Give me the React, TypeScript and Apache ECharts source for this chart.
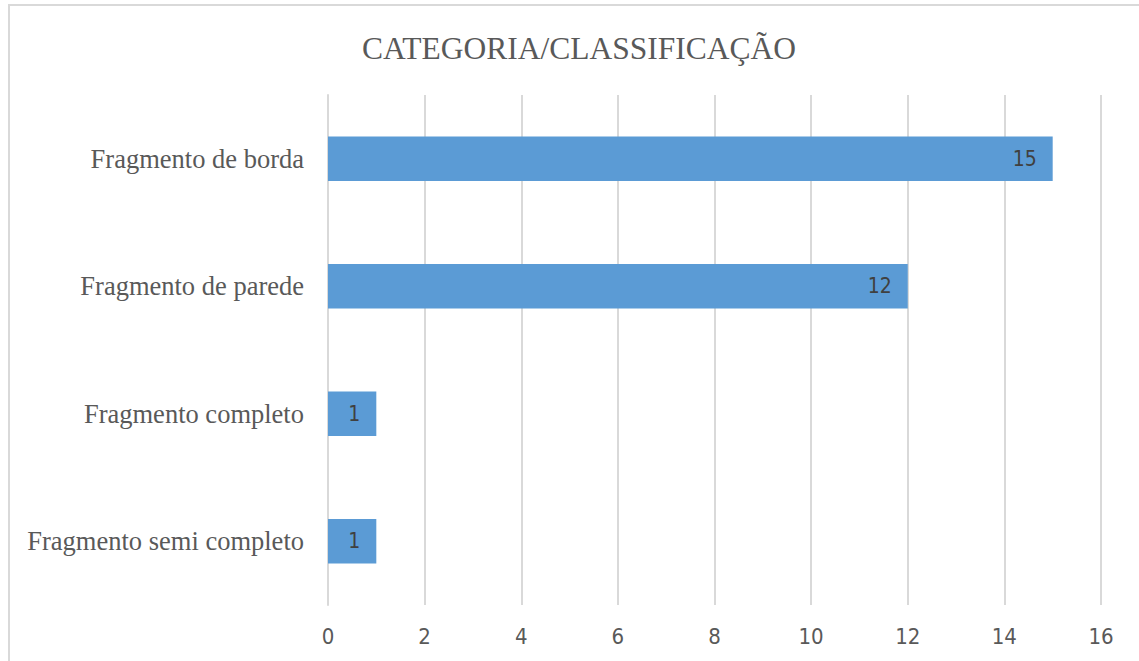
import React, { useEffect, useRef } from "react";
import * as echarts from "echarts";

const title = "CATEGORIA/CLASSIFICAÇÃO";
const categories = [
  "Fragmento de borda",
  "Fragmento de parede",
  "Fragmento completo",
  "Fragmento semi completo",
];
const values = [15, 12, 1, 1];
const axisMin = 0;
const axisMax = 16;
const axisStep = 2;

const sansFont = "'Liberation Sans Narrow', 'DejaVu Sans Condensed', 'Open Sans', sans-serif";
const serifFont = "'Liberation Serif', 'DejaVu Serif', serif";

export default function App() {
  const ref = useRef<HTMLDivElement>(null);
  useEffect(() => {
    if (!ref.current) return;
    const chart = echarts.init(ref.current, undefined, { renderer: "svg" });
    chart.setOption({
      animation: false,
      backgroundColor: "#ffffff",
      title: {
        text: title,
        left: 574,
        textAlign: "center",
        top: 27,
        textStyle: {
          fontFamily: serifFont,
          fontSize: 31.5,
          fontWeight: "normal",
          color: "#595959",
        },
      },
      graphic: [
        {
          type: "rect",
          shape: { x: 9, y: 5, width: 1200, height: 700 },
          style: { fill: "none", stroke: "#d9d9d9", lineWidth: 2 },
          silent: true,
        },
      ],
      grid: { left: 328, right: 38, top: 95, bottom: 56 },
      xAxis: {
        type: "value",
        min: axisMin,
        max: axisMax,
        interval: axisStep,
        axisLine: { show: false },
        axisTick: { show: false },
        splitLine: { show: true, lineStyle: { color: "#d9d9d9", width: 2 } },
        axisLabel: {
          margin: 20,
          fontFamily: sansFont,
          fontSize: 22,
          color: "#595959",
        },
      },
      yAxis: {
        type: "category",
        data: categories,
        inverse: true,
        axisLine: { show: true, lineStyle: { color: "#d9d9d9", width: 2 } },
        axisTick: { show: false },
        splitLine: { show: false },
        axisLabel: {
          margin: 24,
          fontFamily: serifFont,
          fontSize: 26.5,
          color: "#595959",
        },
      },
      series: [
        {
          type: "bar",
          data: values,
          barCategoryGap: "65%",
          itemStyle: { color: "#5b9bd5" },
          label: {
            show: true,
            position: "insideRight",
            distance: 16,
            fontFamily: sansFont,
            fontSize: 21,
            color: "#404040",
          },
        },
      ],
    });
    return () => chart.dispose();
  }, []);
  return (
    <div
      ref={ref}
      style={{ position: "fixed", left: 0, top: 0, width: 1139, height: 661 }}
    />
  );
}
